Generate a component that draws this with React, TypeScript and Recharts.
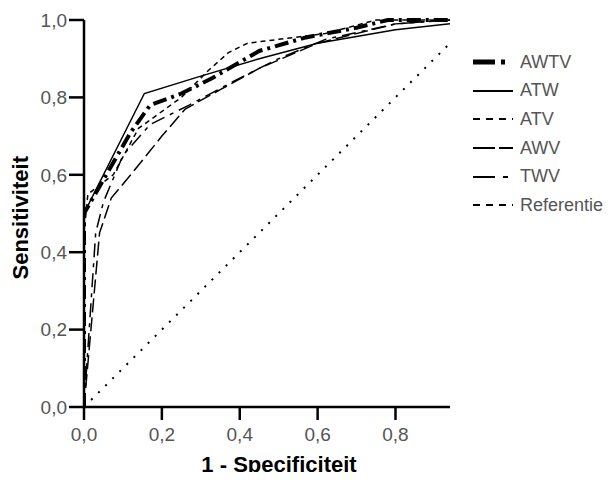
import React from 'react'
import { LineChart, Line, XAxis, YAxis } from 'recharts'

// ROC points: [1 - specificity, sensitivity]
const AWTV = [
  [0, 0], [0, 0.5], [0.04, 0.57], [0.12, 0.71], [0.17, 0.78], [0.25, 0.81],
  [0.33, 0.85], [0.45, 0.92], [0.57, 0.955], [0.7, 0.98], [0.78, 1.0], [0.94, 1.0],
]
const ATW = [
  [0, 0], [0, 0.5], [0.155, 0.81], [0.3, 0.855], [0.45, 0.9], [0.6, 0.94],
  [0.8, 0.975], [0.94, 0.99],
]
const ATV = [
  [0, 0], [0, 0.45], [0.01, 0.55], [0.075, 0.6], [0.14, 0.72], [0.25, 0.8],
  [0.32, 0.87], [0.37, 0.915], [0.42, 0.94], [0.5, 0.95], [0.62, 0.965],
  [0.75, 1.0], [0.94, 1.0],
]
const AWV = [
  [0, 0], [0.04, 0.45], [0.07, 0.54], [0.12, 0.6], [0.2, 0.7], [0.26, 0.77],
  [0.35, 0.82], [0.45, 0.875], [0.6, 0.94], [0.8, 0.99], [0.94, 1.0],
]
const TWV = [
  [0, 0], [0.03, 0.45], [0.05, 0.53], [0.1, 0.65], [0.17, 0.73], [0.27, 0.78],
  [0.4, 0.85], [0.5, 0.9], [0.62, 0.95], [0.8, 0.99], [0.94, 1.0],
]
const REFERENTIE = [[0, 0], [0.94, 0.94]]

const X_TICKS = [0, 0.2, 0.4, 0.6, 0.8]
const Y_TICKS = [0, 0.2, 0.4, 0.6, 0.8, 1.0]

// dash = plot line, legendDash = legend sample
const SERIES = [
  { name: 'AWTV', points: AWTV, width: 4, dash: '14 5 3 5', legendWidth: 5, legendDash: '22 6 4 20' },
  { name: 'ATW', points: ATW, width: 1.5, dash: undefined, legendWidth: 2, legendDash: undefined },
  { name: 'ATV', points: ATV, width: 1.5, dash: '5 4', legendWidth: 2, legendDash: '7 6' },
  { name: 'AWV', points: AWV, width: 1.5, dash: '14 5', legendWidth: 2, legendDash: '22 4' },
  { name: 'TWV', points: TWV, width: 1.5, dash: '14 6 4 6', legendWidth: 2, legendDash: '22 8 5 20' },
  { name: 'Referentie', points: REFERENTIE, width: 2, dash: '2 8', legendWidth: 2, legendDash: '7 6' },
]

const FONT = '"Liberation Sans", Arial, sans-serif'
const fmt = (v: number) => v.toFixed(1).replace('.', ',')

function LegendBox() {
  return (
    <div style={{ position: 'absolute', left: 473, top: 48, fontFamily: FONT }}>
      {SERIES.map(s => (
        <div key={s.name} style={{ display: 'flex', alignItems: 'center', height: 28.6 }}>
          <svg width={41} height={10}>
            <line x1={0} y1={5} x2={40} y2={5} stroke="#000"
              strokeWidth={s.legendWidth} strokeDasharray={s.legendDash} />
          </svg>
          <span style={{ marginLeft: 6, fontSize: 18, color: '#555' }}>{s.name}</span>
        </div>
      ))}
    </div>
  )
}

export default function App() {
  return (
    <div style={{ position: 'relative', width: 616, height: 480, margin: -8, background: '#fff' }}>
      <LineChart width={616} height={480} margin={{ top: 20, right: 166, left: 0, bottom: 0 }}>
        <XAxis
          type="number"
          dataKey="x"
          domain={[0, 0.94]}
          ticks={X_TICKS}
          tickFormatter={fmt}
          allowDataOverflow
          height={73}
          stroke="#000"
          strokeWidth={2.5}
          tickSize={13}
          tickMargin={8}
          tick={{ fill: '#555', fontSize: 19, fontFamily: FONT }}
          label={{ value: '1 - Specificiteit', position: 'insideBottom', offset: 8, dx: 12, fill: '#000', fontSize: 22, fontWeight: 'bold', fontFamily: FONT }}
        />
        <YAxis
          type="number"
          dataKey="y"
          domain={[0, 1]}
          ticks={Y_TICKS}
          tickFormatter={fmt}
          width={84}
          stroke="#000"
          strokeWidth={2.5}
          tickSize={15}
          tickMargin={2}
          tick={{ fill: '#555', fontSize: 19, fontFamily: FONT }}
          label={{ value: 'Sensitiviteit', angle: -90, position: 'insideLeft', offset: 20, dy: 66, fill: '#000', fontSize: 22, fontWeight: 'bold', fontFamily: FONT }}
        />
        {SERIES.map(s => (
          <Line
            key={s.name}
            name={s.name}
            data={s.points.map(([x, y]) => ({ x, y }))}
            dataKey="y"
            type="linear"
            stroke="#000"
            strokeWidth={s.width}
            strokeDasharray={s.dash}
            dot={false}
            activeDot={false}
            isAnimationActive={false}
          />
        ))}
      </LineChart>
      <LegendBox />
    </div>
  )
}
